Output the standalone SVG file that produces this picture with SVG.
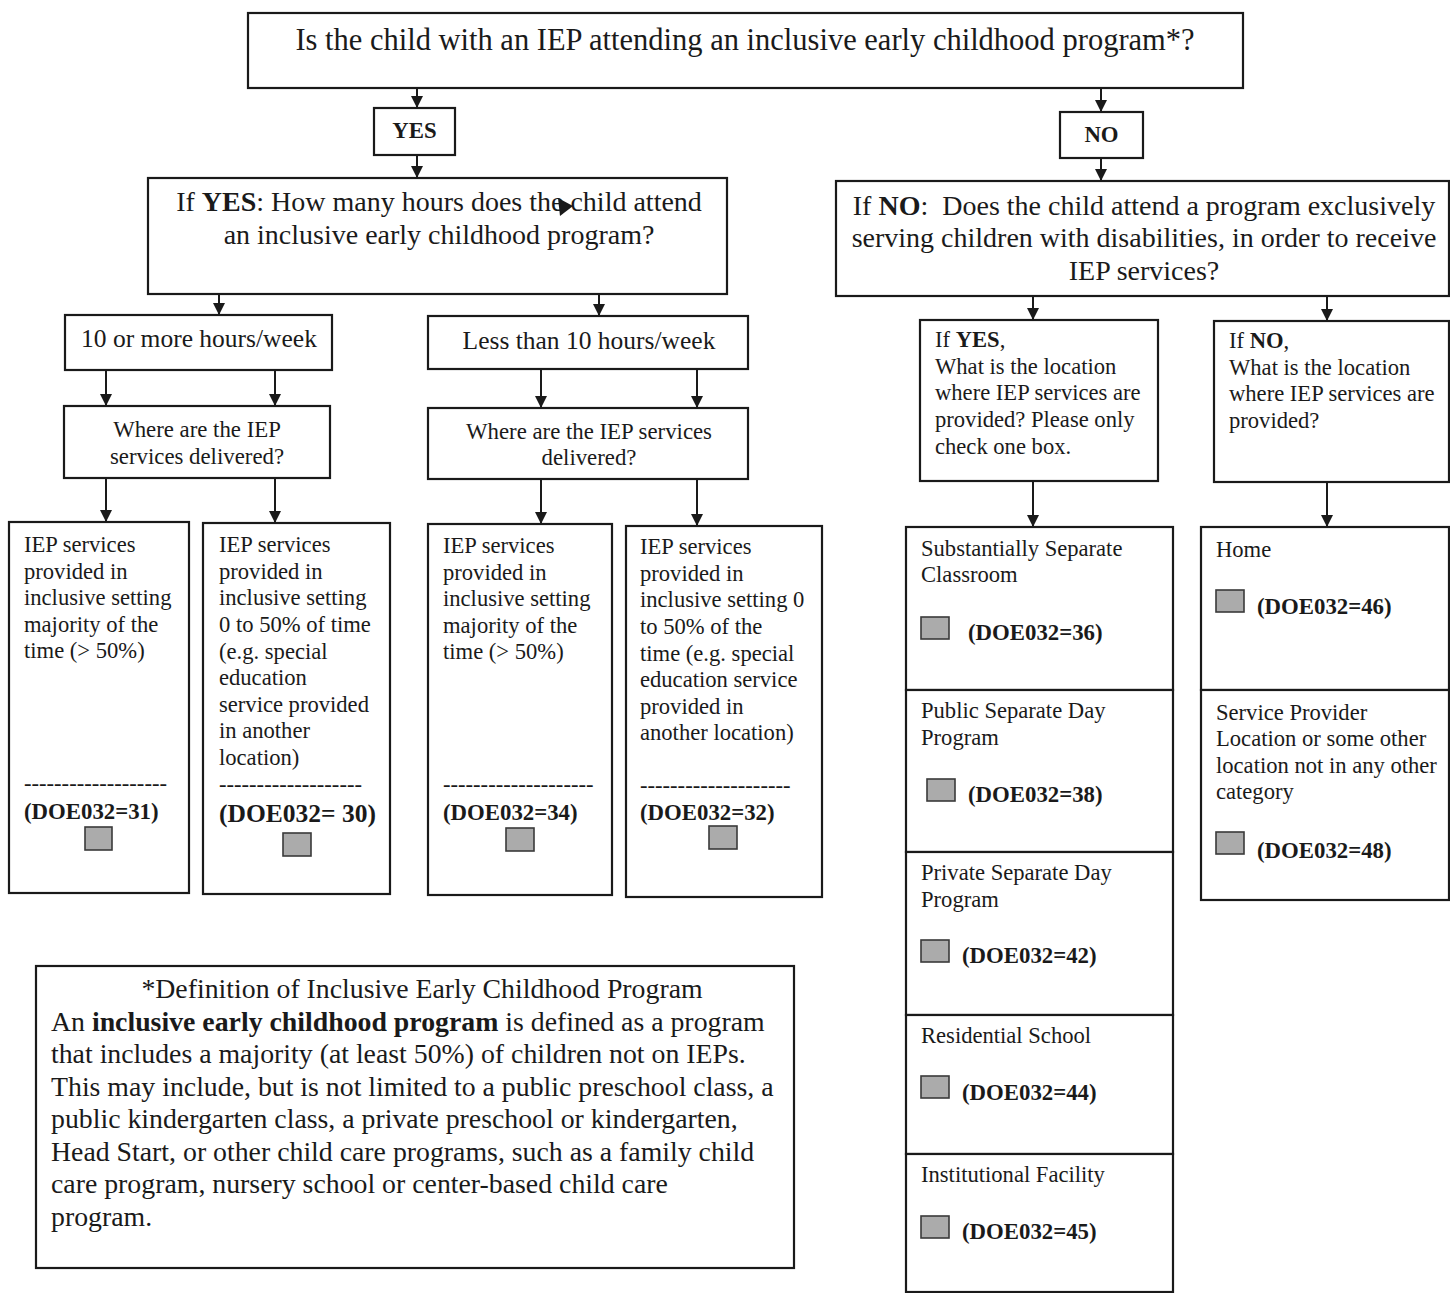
<svg xmlns="http://www.w3.org/2000/svg" width="1450" height="1293" viewBox="0 0 1450 1293">
<style>
.box{fill:#fff;stroke:#1a1a1a;stroke-width:2.2}
.t{font-family:"Liberation Serif","Times New Roman",serif;fill:#1a1a1a}
.big{font-size:30.5px}
.q{font-size:28px}
.m{font-size:25.5px}
.w{font-size:22.8px}
.s{font-size:22.6px}
.d{font-size:27.8px}
.lb{font-size:22.8px;font-weight:bold}
.b{font-weight:bold}
.c{text-anchor:middle}
.cb{fill:#ababab;stroke:#3a3a3a;stroke-width:1.6}
.ln{stroke:#1a1a1a;stroke-width:2;fill:none;marker-end:url(#ah)}
</style>
<defs>
<marker id="ah" viewBox="0 0 12 12" refX="12" refY="6" markerWidth="12" markerHeight="12" markerUnits="userSpaceOnUse" orient="auto">
<path d="M0,0 L12,6 L0,12 Z" fill="#1a1a1a"/>
</marker>
</defs>
<rect width="1450" height="1293" fill="#fff"/>

<g id="connectors">
<line class="ln" x1="417" y1="88" x2="417" y2="108"/>
<line class="ln" x1="417" y1="155" x2="417" y2="178"/>
<line class="ln" x1="1101" y1="89" x2="1101" y2="112"/>
<line class="ln" x1="1101" y1="158" x2="1101" y2="181"/>
<line class="ln" x1="219" y1="294" x2="219" y2="315"/>
<line class="ln" x1="599" y1="294" x2="599" y2="316"/>
<line class="ln" x1="106" y1="362" x2="106" y2="406"/>
<line class="ln" x1="275" y1="362" x2="275" y2="406"/>
<line class="ln" x1="541" y1="362" x2="541" y2="408"/>
<line class="ln" x1="697" y1="362" x2="697" y2="408"/>
<line class="ln" x1="106" y1="478" x2="106" y2="522"/>
<line class="ln" x1="275" y1="478" x2="275" y2="523"/>
<line class="ln" x1="541" y1="479" x2="541" y2="524"/>
<line class="ln" x1="697" y1="479" x2="697" y2="526"/>
<line class="ln" x1="1033" y1="296" x2="1033" y2="320"/>
<line class="ln" x1="1327" y1="297" x2="1327" y2="321"/>
<line class="ln" x1="1033" y1="481" x2="1033" y2="527"/>
<line class="ln" x1="1327" y1="482" x2="1327" y2="527"/>
</g>

<g id="n-top">
<rect class="box" x="248" y="13" width="995" height="75"/>
<text class="t big c" x="745" y="50">Is the child with an IEP attending an inclusive early childhood program*?</text>
</g>

<g id="n-yes">
<rect class="box" x="374" y="108" width="81" height="47"/>
<text class="t lb c" x="414.500" y="138">YES</text>
</g>

<g id="n-no">
<rect class="box" x="1060" y="112" width="83" height="46"/>
<text class="t lb c" x="1101.500" y="142">NO</text>
</g>

<g id="n-ifyes">
<rect class="box" x="148" y="178" width="579" height="116"/>
<text class="t q c" x="439" y="211">If <tspan class="b">YES</tspan>: How many hours does the child attend</text>
<text class="t q c" x="439" y="244">an inclusive early childhood program?</text>
<polygon points="558,198 573,206 560,216" fill="#1a1a1a"/>
</g>

<g id="n-ifno">
<rect class="box" x="836" y="181" width="613" height="115"/>
<text class="t q c" x="1144" y="215">If <tspan class="b">NO</tspan>:&#160; Does the child attend a program exclusively</text>
<text class="t q c" x="1144" y="247">serving children with disabilities, in order to receive</text>
<text class="t q c" x="1144" y="280">IEP services?</text>
</g>

<g id="n-10more">
<rect class="box" x="65" y="315" width="267" height="55"/>
<text class="t m c" x="199" y="347">10 or more hours/week</text>
</g>

<g id="n-less10">
<rect class="box" x="428" y="316" width="320" height="53"/>
<text class="t m c" x="589" y="349">Less than 10 hours/week</text>
</g>

<g id="n-where1">
<rect class="box" x="64" y="406" width="266" height="72"/>
<text class="t w c" x="197" y="437">Where are the IEP</text>
<text class="t w c" x="197" y="464">services delivered?</text>
</g>

<g id="n-where2">
<rect class="box" x="428" y="408" width="320" height="71"/>
<text class="t w c" x="589" y="439">Where are the IEP services</text>
<text class="t w c" x="589" y="465">delivered?</text>
</g>

<g id="n-leaf31">
<rect class="box" x="9" y="522" width="180" height="371"/>
<text class="t s" x="24" y="552">IEP services</text>
<text class="t s" x="24" y="579">provided in</text>
<text class="t s" x="24" y="605">inclusive setting</text>
<text class="t s" x="24" y="632">majority of the</text>
<text class="t s" x="24" y="658">time (&gt; 50%)</text>
<text class="t s" x="24" y="791">-------------------</text>
<text class="t lb" x="24" y="819">(DOE032=31)</text>
<rect class="cb" x="85" y="827" width="27" height="23"/>
</g>

<g id="n-leaf30">
<rect class="box" x="203" y="523" width="187" height="371"/>
<text class="t s" x="219" y="552">IEP services</text>
<text class="t s" x="219" y="579">provided in</text>
<text class="t s" x="219" y="605">inclusive setting</text>
<text class="t s" x="219" y="632">0 to 50% of time</text>
<text class="t s" x="219" y="659">(e.g. special</text>
<text class="t s" x="219" y="685">education</text>
<text class="t s" x="219" y="712">service provided</text>
<text class="t s" x="219" y="738">in another</text>
<text class="t s" x="219" y="765">location)</text>
<text class="t s" x="219" y="792">-------------------</text>
<text class="t b" style="font-size:25.5px" x="219" y="822">(DOE032= 30)</text>
<rect class="cb" x="283" y="833" width="28" height="23"/>
</g>

<g id="n-leaf34">
<rect class="box" x="428" y="524" width="184" height="371"/>
<text class="t s" x="443" y="553">IEP services</text>
<text class="t s" x="443" y="580">provided in</text>
<text class="t s" x="443" y="606">inclusive setting</text>
<text class="t s" x="443" y="633">majority of the</text>
<text class="t s" x="443" y="659">time (&gt; 50%)</text>
<text class="t s" x="443" y="792">--------------------</text>
<text class="t lb" x="443" y="820">(DOE032=34)</text>
<rect class="cb" x="506" y="828" width="28" height="23"/>
</g>

<g id="n-leaf32">
<rect class="box" x="626" y="526" width="196" height="371"/>
<text class="t s" x="640" y="554">IEP services</text>
<text class="t s" x="640" y="581">provided in</text>
<text class="t s" x="640" y="607">inclusive setting 0</text>
<text class="t s" x="640" y="634">to 50% of the</text>
<text class="t s" x="640" y="661">time (e.g. special</text>
<text class="t s" x="640" y="687">education service</text>
<text class="t s" x="640" y="714">provided in</text>
<text class="t s" x="640" y="740">another location)</text>
<text class="t s" x="640" y="793">--------------------</text>
<text class="t lb" x="640" y="820">(DOE032=32)</text>
<rect class="cb" x="709" y="826" width="28" height="23"/>
</g>

<g id="n-ifyes2">
<rect class="box" x="920" y="320" width="238" height="161"/>
<text class="t s" x="935" y="347">If <tspan class="b">YES</tspan>,</text>
<text class="t s" x="935" y="374">What is the location</text>
<text class="t s" x="935" y="400">where IEP services are</text>
<text class="t s" x="935" y="427">provided? Please only</text>
<text class="t s" x="935" y="454">check one box.</text>
</g>

<g id="n-ifno2">
<rect class="box" x="1214" y="321" width="235" height="161"/>
<text class="t s" x="1229" y="348">If <tspan class="b">NO</tspan>,</text>
<text class="t s" x="1229" y="375">What is the location</text>
<text class="t s" x="1229" y="401">where IEP services are</text>
<text class="t s" x="1229" y="428">provided?</text>
</g>

<g id="n-sep-classroom">
<rect class="box" x="906" y="527" width="267" height="163"/>
<text class="t s" x="921" y="556">Substantially Separate</text>
<text class="t s" x="921" y="582">Classroom</text>
<rect class="cb" x="921" y="617" width="28" height="22"/>
<text class="t lb" x="968" y="640">(DOE032=36)</text>
</g>

<g id="n-public-day">
<rect class="box" x="906" y="690" width="267" height="162"/>
<text class="t s" x="921" y="718">Public Separate Day</text>
<text class="t s" x="921" y="745">Program</text>
<rect class="cb" x="927" y="779" width="28" height="22"/>
<text class="t lb" x="968" y="802">(DOE032=38)</text>
</g>

<g id="n-private-day">
<rect class="box" x="906" y="852" width="267" height="163"/>
<text class="t s" x="921" y="880">Private Separate Day</text>
<text class="t s" x="921" y="907">Program</text>
<rect class="cb" x="921" y="940" width="28" height="22"/>
<text class="t lb" x="962" y="963">(DOE032=42)</text>
</g>

<g id="n-residential">
<rect class="box" x="906" y="1015" width="267" height="139"/>
<text class="t s" x="921" y="1043">Residential School</text>
<rect class="cb" x="921" y="1076" width="28" height="22"/>
<text class="t lb" x="962" y="1100">(DOE032=44)</text>
</g>

<g id="n-institutional">
<rect class="box" x="906" y="1154" width="267" height="138"/>
<text class="t s" x="921" y="1182">Institutional Facility</text>
<rect class="cb" x="921" y="1216" width="28" height="22"/>
<text class="t lb" x="962" y="1239">(DOE032=45)</text>
</g>

<g id="n-home">
<rect class="box" x="1201" y="527" width="248" height="163"/>
<text class="t s" x="1216" y="557">Home</text>
<rect class="cb" x="1216" y="590" width="28" height="22"/>
<text class="t lb" x="1257" y="614">(DOE032=46)</text>
</g>

<g id="n-service-provider">
<rect class="box" x="1201" y="690" width="248" height="210"/>
<text class="t s" x="1216" y="720">Service Provider</text>
<text class="t s" x="1216" y="746">Location or some other</text>
<text class="t s" x="1216" y="773">location not in any other</text>
<text class="t s" x="1216" y="799">category</text>
<rect class="cb" x="1216" y="832" width="28" height="22"/>
<text class="t lb" x="1257" y="858">(DOE032=48)</text>
</g>

<g id="n-definition">
<rect class="box" x="36" y="966" width="758" height="302"/>
<text class="t d c" x="422" y="998">*Definition of Inclusive Early Childhood Program</text>
<text class="t d" x="51" y="1031">An <tspan class="b">inclusive early childhood program</tspan> is defined as a program</text>
<text class="t d" x="51" y="1063">that includes a majority (at least 50%) of children not on IEPs.</text>
<text class="t d" x="51" y="1096">This may include, but is not limited to a public preschool class, a</text>
<text class="t d" x="51" y="1128">public kindergarten class, a private preschool or kindergarten,</text>
<text class="t d" x="51" y="1161">Head Start, or other child care programs, such as a family child</text>
<text class="t d" x="51" y="1193">care program, nursery school or center-based child care</text>
<text class="t d" x="51" y="1226">program.</text>
</g>
</svg>
